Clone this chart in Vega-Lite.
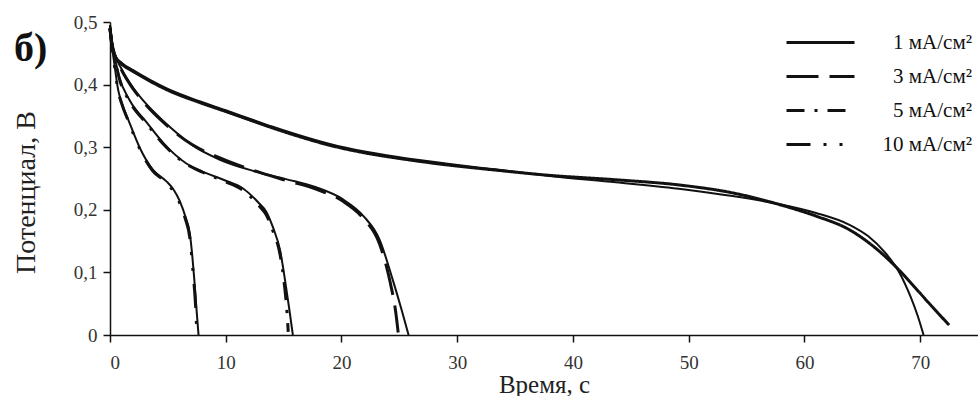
{
  "$schema": "https://vega.github.io/schema/vega-lite/v6.json",
  "width": 868,
  "height": 313,
  "autosize": {"type": "none"},
  "padding": {"left": 110, "top": 22, "right": 0, "bottom": 61},
  "background": "white",
  "config": {"view": {"stroke": null}, "font": "Liberation Serif"},
  "title": {"text": "б)", "anchor": "start", "frame": "group", "orient": "top", "offset": -40, "dx": -96, "dy": 48, "fontSize": 40, "fontWeight": "bold", "font": "Liberation Serif", "baseline": "alphabetic", "color": "#111"},
  "datasets": {
    "fit": [
      {"current": "1 мА/см²", "time": 0, "potential": 0.495},
      {"current": "1 мА/см²", "time": 0.15, "potential": 0.468},
      {"current": "1 мА/см²", "time": 0.5, "potential": 0.445},
      {"current": "1 мА/см²", "time": 1, "potential": 0.435},
      {"current": "1 мА/см²", "time": 2, "potential": 0.423},
      {"current": "1 мА/см²", "time": 3.5, "potential": 0.407},
      {"current": "1 мА/см²", "time": 5, "potential": 0.393},
      {"current": "1 мА/см²", "time": 7.8, "potential": 0.373},
      {"current": "1 мА/см²", "time": 10, "potential": 0.359},
      {"current": "1 мА/см²", "time": 12, "potential": 0.346},
      {"current": "1 мА/см²", "time": 14, "potential": 0.333},
      {"current": "1 мА/см²", "time": 16, "potential": 0.321},
      {"current": "1 мА/см²", "time": 19, "potential": 0.305},
      {"current": "1 мА/см²", "time": 22, "potential": 0.293},
      {"current": "1 мА/см²", "time": 25, "potential": 0.284},
      {"current": "1 мА/см²", "time": 29, "potential": 0.274},
      {"current": "1 мА/см²", "time": 33, "potential": 0.265},
      {"current": "1 мА/см²", "time": 38, "potential": 0.254},
      {"current": "1 мА/см²", "time": 43.7, "potential": 0.244},
      {"current": "1 мА/см²", "time": 49.5, "potential": 0.233},
      {"current": "1 мА/см²", "time": 53.8, "potential": 0.222},
      {"current": "1 мА/см²", "time": 58.1, "potential": 0.208},
      {"current": "1 мА/см²", "time": 61, "potential": 0.195},
      {"current": "1 мА/см²", "time": 63.9, "potential": 0.176},
      {"current": "1 мА/см²", "time": 65.5, "potential": 0.158},
      {"current": "1 мА/см²", "time": 67, "potential": 0.131},
      {"current": "1 мА/см²", "time": 68.2, "potential": 0.1},
      {"current": "1 мА/см²", "time": 69.2, "potential": 0.06},
      {"current": "1 мА/см²", "time": 69.8, "potential": 0.03},
      {"current": "1 мА/см²", "time": 70.3, "potential": 0},
      {"current": "3 мА/см²", "time": 0, "potential": 0.495},
      {"current": "3 мА/см²", "time": 0.15, "potential": 0.47},
      {"current": "3 мА/см²", "time": 0.4, "potential": 0.45},
      {"current": "3 мА/см²", "time": 1, "potential": 0.425},
      {"current": "3 мА/см²", "time": 2, "potential": 0.395},
      {"current": "3 мА/см²", "time": 2.9, "potential": 0.374},
      {"current": "3 мА/см²", "time": 4.6, "potential": 0.342},
      {"current": "3 мА/см²", "time": 5.2, "potential": 0.332},
      {"current": "3 мА/см²", "time": 7.2, "potential": 0.302},
      {"current": "3 мА/см²", "time": 9.5, "potential": 0.28},
      {"current": "3 мА/см²", "time": 12.4, "potential": 0.262},
      {"current": "3 мА/см²", "time": 15.2, "potential": 0.249},
      {"current": "3 мА/см²", "time": 17.8, "potential": 0.236},
      {"current": "3 мА/см²", "time": 20.1, "potential": 0.217},
      {"current": "3 мА/см²", "time": 21.9, "potential": 0.19},
      {"current": "3 мА/см²", "time": 23.3, "potential": 0.152},
      {"current": "3 мА/см²", "time": 24.4, "potential": 0.09},
      {"current": "3 мА/см²", "time": 25.2, "potential": 0.04},
      {"current": "3 мА/см²", "time": 25.8, "potential": 0},
      {"current": "5 мА/см²", "time": 0, "potential": 0.495},
      {"current": "5 мА/см²", "time": 0.15, "potential": 0.468},
      {"current": "5 мА/см²", "time": 0.4, "potential": 0.445},
      {"current": "5 мА/см²", "time": 0.8, "potential": 0.412},
      {"current": "5 мА/см²", "time": 1.7, "potential": 0.375},
      {"current": "5 мА/см²", "time": 3.2, "potential": 0.339},
      {"current": "5 мА/см²", "time": 4.6, "potential": 0.307},
      {"current": "5 мА/см²", "time": 6.6, "potential": 0.274},
      {"current": "5 мА/см²", "time": 8, "potential": 0.261},
      {"current": "5 мА/см²", "time": 9.8, "potential": 0.248},
      {"current": "5 мА/см²", "time": 11.5, "potential": 0.234},
      {"current": "5 мА/см²", "time": 12.9, "potential": 0.21},
      {"current": "5 мА/см²", "time": 13.5, "potential": 0.197},
      {"current": "5 мА/см²", "time": 14.1, "potential": 0.171},
      {"current": "5 мА/см²", "time": 14.7, "potential": 0.135},
      {"current": "5 мА/см²", "time": 15.2, "potential": 0.078},
      {"current": "5 мА/см²", "time": 15.5, "potential": 0.04},
      {"current": "5 мА/см²", "time": 15.8, "potential": 0},
      {"current": "10 мА/см²", "time": 0, "potential": 0.495},
      {"current": "10 мА/см²", "time": 0.15, "potential": 0.465},
      {"current": "10 мА/см²", "time": 0.4, "potential": 0.43},
      {"current": "10 мА/см²", "time": 0.7, "potential": 0.392},
      {"current": "10 мА/см²", "time": 1, "potential": 0.372},
      {"current": "10 мА/см²", "time": 1.6, "potential": 0.343},
      {"current": "10 мА/см²", "time": 2.6, "potential": 0.298},
      {"current": "10 мА/см²", "time": 3.7, "potential": 0.264},
      {"current": "10 мА/см²", "time": 4.9, "potential": 0.245},
      {"current": "10 мА/см²", "time": 5.5, "potential": 0.232},
      {"current": "10 мА/см²", "time": 6, "potential": 0.215},
      {"current": "10 мА/см²", "time": 6.5, "potential": 0.19},
      {"current": "10 мА/см²", "time": 6.9, "potential": 0.162},
      {"current": "10 мА/см²", "time": 7.3, "potential": 0.085},
      {"current": "10 мА/см²", "time": 7.5, "potential": 0.035},
      {"current": "10 мА/см²", "time": 7.65, "potential": 0}
    ],
    "exp": [
      {"current": "1 мА/см²", "time": 0, "potential": 0.49},
      {"current": "1 мА/см²", "time": 0.15, "potential": 0.466},
      {"current": "1 мА/см²", "time": 0.5, "potential": 0.443},
      {"current": "1 мА/см²", "time": 1, "potential": 0.433},
      {"current": "1 мА/см²", "time": 2, "potential": 0.421},
      {"current": "1 мА/см²", "time": 3.5, "potential": 0.405},
      {"current": "1 мА/см²", "time": 5, "potential": 0.391},
      {"current": "1 мА/см²", "time": 7.8, "potential": 0.371},
      {"current": "1 мА/см²", "time": 10, "potential": 0.357},
      {"current": "1 мА/см²", "time": 12, "potential": 0.344},
      {"current": "1 мА/см²", "time": 14, "potential": 0.331},
      {"current": "1 мА/см²", "time": 16, "potential": 0.319},
      {"current": "1 мА/см²", "time": 19, "potential": 0.303},
      {"current": "1 мА/см²", "time": 22, "potential": 0.291},
      {"current": "1 мА/см²", "time": 25, "potential": 0.282},
      {"current": "1 мА/см²", "time": 29, "potential": 0.272},
      {"current": "1 мА/см²", "time": 33, "potential": 0.264},
      {"current": "1 мА/см²", "time": 38, "potential": 0.255},
      {"current": "1 мА/см²", "time": 43.7, "potential": 0.248},
      {"current": "1 мА/см²", "time": 49.5, "potential": 0.239},
      {"current": "1 мА/см²", "time": 53.8, "potential": 0.227},
      {"current": "1 мА/см²", "time": 58.1, "potential": 0.207},
      {"current": "1 мА/см²", "time": 61, "potential": 0.19},
      {"current": "1 мА/см²", "time": 63.9, "potential": 0.168},
      {"current": "1 мА/см²", "time": 66.2, "potential": 0.138},
      {"current": "1 мА/см²", "time": 67.9, "potential": 0.109},
      {"current": "1 мА/см²", "time": 69.6, "potential": 0.075},
      {"current": "1 мА/см²", "time": 71, "potential": 0.046},
      {"current": "1 мА/см²", "time": 72.5, "potential": 0.016},
      {"current": "3 мА/см²", "time": 0, "potential": 0.49},
      {"current": "3 мА/см²", "time": 0.15, "potential": 0.468},
      {"current": "3 мА/см²", "time": 0.4, "potential": 0.448},
      {"current": "3 мА/см²", "time": 1, "potential": 0.423},
      {"current": "3 мА/см²", "time": 2, "potential": 0.393},
      {"current": "3 мА/см²", "time": 2.9, "potential": 0.372},
      {"current": "3 мА/см²", "time": 4.6, "potential": 0.34},
      {"current": "3 мА/см²", "time": 5.2, "potential": 0.33},
      {"current": "3 мА/см²", "time": 7.2, "potential": 0.303},
      {"current": "3 мА/см²", "time": 9.5, "potential": 0.283},
      {"current": "3 мА/см²", "time": 12.4, "potential": 0.263},
      {"current": "3 мА/см²", "time": 15.2, "potential": 0.247},
      {"current": "3 мА/см²", "time": 17.8, "potential": 0.233},
      {"current": "3 мА/см²", "time": 20.1, "potential": 0.214},
      {"current": "3 мА/см²", "time": 21.9, "potential": 0.186},
      {"current": "3 мА/см²", "time": 23.3, "potential": 0.145},
      {"current": "3 мА/см²", "time": 24.2, "potential": 0.085},
      {"current": "3 мА/см²", "time": 24.7, "potential": 0.035},
      {"current": "3 мА/см²", "time": 24.9, "potential": 0.004},
      {"current": "5 мА/см²", "time": 0, "potential": 0.49},
      {"current": "5 мА/см²", "time": 0.15, "potential": 0.466},
      {"current": "5 мА/см²", "time": 0.4, "potential": 0.443},
      {"current": "5 мА/см²", "time": 0.8, "potential": 0.41},
      {"current": "5 мА/см²", "time": 1.7, "potential": 0.373},
      {"current": "5 мА/см²", "time": 3.2, "potential": 0.337},
      {"current": "5 мА/см²", "time": 4.6, "potential": 0.305},
      {"current": "5 мА/см²", "time": 6.6, "potential": 0.273},
      {"current": "5 мА/см²", "time": 8, "potential": 0.26},
      {"current": "5 мА/см²", "time": 9.8, "potential": 0.246},
      {"current": "5 мА/см²", "time": 11.5, "potential": 0.231},
      {"current": "5 мА/см²", "time": 12.9, "potential": 0.206},
      {"current": "5 мА/см²", "time": 13.5, "potential": 0.192},
      {"current": "5 мА/см²", "time": 14.1, "potential": 0.165},
      {"current": "5 мА/см²", "time": 14.7, "potential": 0.128},
      {"current": "5 мА/см²", "time": 15.1, "potential": 0.075},
      {"current": "5 мА/см²", "time": 15.3, "potential": 0.035},
      {"current": "5 мА/см²", "time": 15.4, "potential": 0.005},
      {"current": "10 мА/см²", "time": 0, "potential": 0.49},
      {"current": "10 мА/см²", "time": 0.15, "potential": 0.463},
      {"current": "10 мА/см²", "time": 0.4, "potential": 0.428},
      {"current": "10 мА/см²", "time": 0.7, "potential": 0.39},
      {"current": "10 мА/см²", "time": 1, "potential": 0.37},
      {"current": "10 мА/см²", "time": 1.6, "potential": 0.341},
      {"current": "10 мА/см²", "time": 2.6, "potential": 0.296},
      {"current": "10 мА/см²", "time": 3.7, "potential": 0.262},
      {"current": "10 мА/см²", "time": 4.9, "potential": 0.243},
      {"current": "10 мА/см²", "time": 5.5, "potential": 0.229},
      {"current": "10 мА/см²", "time": 6, "potential": 0.212},
      {"current": "10 мА/см²", "time": 6.5, "potential": 0.186},
      {"current": "10 мА/см²", "time": 6.9, "potential": 0.155},
      {"current": "10 мА/см²", "time": 7.2, "potential": 0.095},
      {"current": "10 мА/см²", "time": 7.4, "potential": 0.045},
      {"current": "10 мА/см²", "time": 7.5, "potential": 0.005}
    ]
  },
  "encoding": {
    "x": {
      "field": "time", "type": "quantitative",
      "scale": {"domain": [0, 75], "nice": false},
      "axis": {
        "title": "Время, с", "values": [0, 10, 20, 30, 40, 50, 60, 70],
        "grid": false, "tickSize": 7, "tickWidth": 1.5, "tickColor": "#111",
        "domainColor": "#111", "domainWidth": 1.5,
        "labelFont": "Liberation Serif", "labelFontSize": 19, "labelColor": "#333", "labelPadding": 11,
        "titleFont": "Liberation Serif", "titleFontSize": 25, "titleFontWeight": "normal", "titleColor": "#222",
        "titleBaseline": "alphabetic", "titleY": 57
      }
    },
    "y": {
      "field": "potential", "type": "quantitative",
      "scale": {"domain": [0, 0.5], "nice": false},
      "axis": {
        "title": "Потенциал, В", "values": [0, 0.1, 0.2, 0.3, 0.4, 0.5],
        "labelExpr": "datum.value == 0 ? '0' : replace(format(datum.value, '.1f'), '.', ',')",
        "grid": false, "tickSize": 7, "tickWidth": 1.5, "tickColor": "#111",
        "domainColor": "#111", "domainWidth": 1.5,
        "labelFont": "Liberation Serif", "labelFontSize": 19, "labelColor": "#333", "labelPadding": 6,
        "titleFont": "Liberation Serif", "titleFontSize": 28, "titleFontWeight": "normal", "titleColor": "#222",
        "titleBaseline": "alphabetic", "titleX": -76, "titleY": 170
      }
    }
  },
  "layer": [
    {
      "data": {"name": "fit"},
      "mark": {"type": "line", "interpolate": "monotone", "color": "#111", "strokeWidth": 2},
      "encoding": {"detail": {"field": "current", "type": "nominal"}}
    },
    {
      "data": {"name": "exp"},
      "mark": {"type": "line", "interpolate": "monotone", "color": "#111", "strokeWidth": 3},
      "encoding": {
        "strokeDash": {
          "field": "current", "type": "nominal",
          "scale": {
            "domain": ["1 мА/см²", "3 мА/см²", "5 мА/см²", "10 мА/см²"],
            "range": [[1, 0], [32, 11], [18, 10, 3, 10], [24, 13, 3, 13, 3, 13]]
          },
          "legend": {
            "title": null, "orient": "none", "legendX": 700, "legendY": 10,
            "symbolType": "M-4,0H4", "symbolSize": 289, "symbolStrokeWidth": 3, "symbolStrokeColor": "#111",
            "labelFont": "Liberation Serif", "labelFontSize": 21, "labelColor": "#111",
            "labelAlign": "right", "labelOffset": 141,
            "padding": 0, "rowPadding": 12
          }
        }
      }
    }
  ]
}
